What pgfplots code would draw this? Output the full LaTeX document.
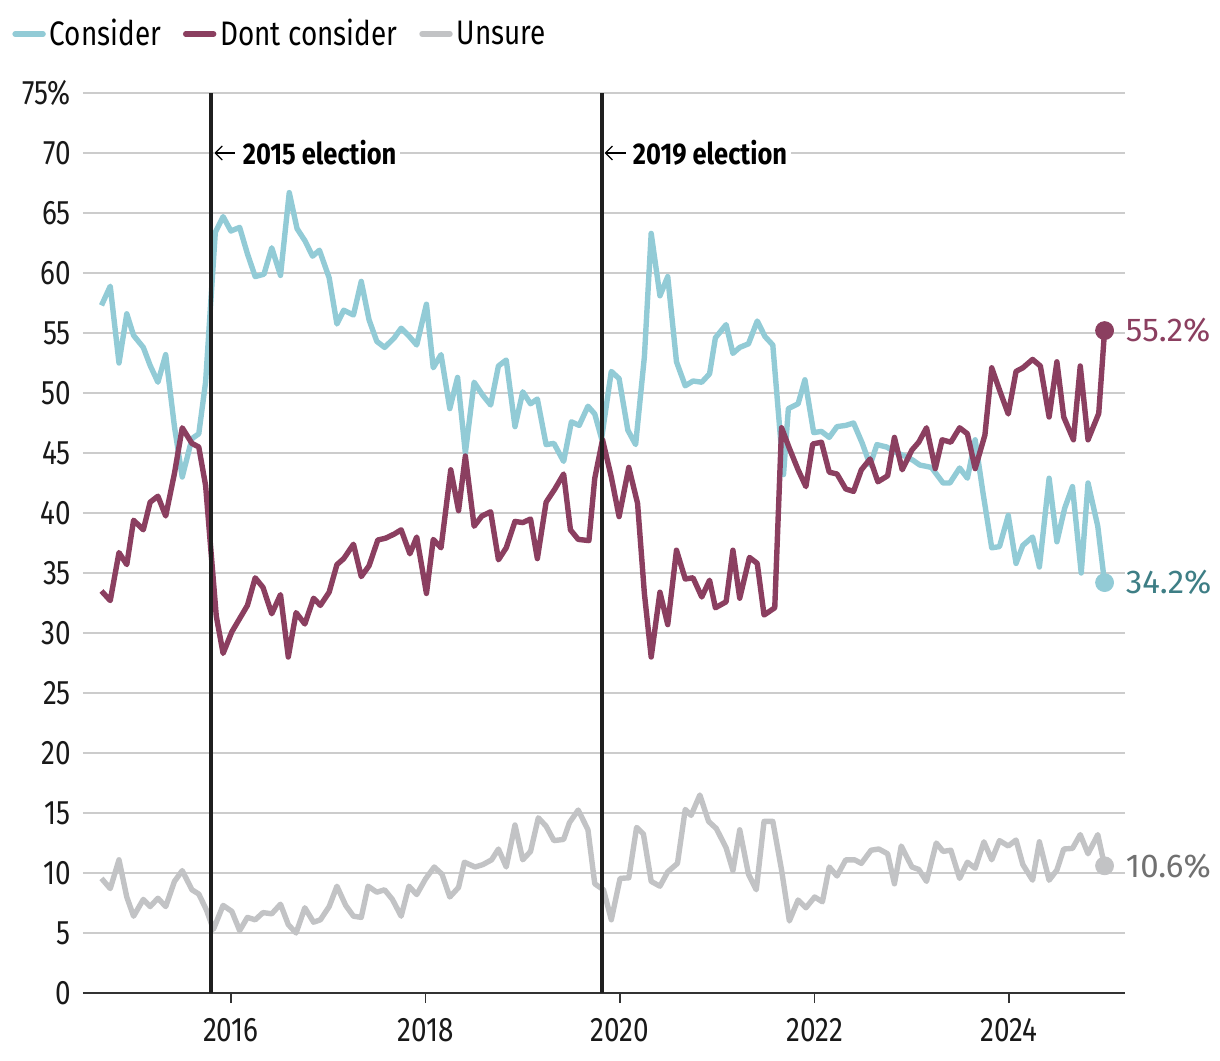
\documentclass[border=0pt]{standalone}
\usepackage{fontspec}
\setmainfont[FakeStretch=0.82]{Fira Sans}
\newfontfamily\annfont[FakeStretch=0.85]{Fira Sans}
\newfontfamily\endfont{Fira Sans}
\usepackage{pgfplots}
\pgfplotsset{compat=1.18}
\usetikzlibrary{arrows.meta}
\definecolor{consider}{HTML}{92CBD6}
\definecolor{dont}{HTML}{8B3F60}
\definecolor{unsure}{HTML}{C2C3C5}
\definecolor{considerdark}{HTML}{3E7E85}
\definecolor{unsuredark}{HTML}{707070}
\definecolor{gridc}{HTML}{CCCCCC}
\begin{document}
\begin{tikzpicture}
\useasboundingbox (-41.5pt,-33.5pt) rectangle (568.5pt,496.5pt);
\begin{axis}[
  scale only axis, width=521pt, height=450pt,
  xmin=2014.48, xmax=2025.19, ymin=0, ymax=75,
  clip=false,
  axis x line*=bottom, axis y line*=left,
  x axis line style={draw=black!80, line width=1pt},
  y axis line style={draw=none},
  xtick={2016,2018,2020,2022,2024},
  xticklabels={2016,2018,2020,2022,2024},
  xtick align=outside,
  major tick length=5pt,
  xtick style={draw=black!80, line width=0.8pt},
  ytick={0,5,10,15,20,25,30,35,40,45,50,55,60,65,70,75},
  yticklabels={0,5,10,15,20,25,30,35,40,45,50,55,60,65,70,75\%},
  ytick style={draw=none},
  ymajorgrids,
  grid style={gridc, line width=1pt},
  tick label style={font=\fontsize{17}{19}\selectfont, text=black!90},
  yticklabel style={xshift=-2.5pt},
  xticklabel style={yshift=-4pt},
  legend style={at={(0,1)}, anchor=west, xshift=-35.5pt, yshift=29.5pt,
    draw=none, fill=none, inner sep=0pt, legend columns=-1,
    font=\fontsize{17}{19}\selectfont,
    /tikz/every even column/.append style={column sep=9pt}},
  legend image code/.code={\draw[#1, line cap=round] (0pt,0pt) -- (14pt,0pt);},
]
\addplot[consider, line width=2.7pt, line join=round] coordinates {
(2014.67,57.3) (2014.76,58.9) (2014.85,52.5) (2014.93,56.6) (2015.00,54.8) (2015.10,53.8)
(2015.17,52.3) (2015.25,50.9) (2015.33,53.2) (2015.42,47.2) (2015.50,43.0) (2015.60,46.2)
(2015.67,46.6) (2015.74,50.9) (2015.84,63.4) (2015.92,64.7) (2016.00,63.5) (2016.09,63.8)
(2016.17,61.6) (2016.25,59.7) (2016.34,59.9) (2016.42,62.1) (2016.51,59.8) (2016.60,66.7)
(2016.68,63.7) (2016.76,62.7) (2016.84,61.4) (2016.91,61.9) (2017.01,59.6) (2017.09,55.75)
(2017.16,56.9) (2017.26,56.5) (2017.34,59.3) (2017.42,56.1) (2017.50,54.3) (2017.58,53.8)
(2017.68,54.6) (2017.75,55.4) (2017.83,54.75) (2017.91,54.0) (2018.01,57.4) (2018.08,52.1)
(2018.16,53.2) (2018.25,48.7) (2018.33,51.3) (2018.41,45.0) (2018.50,50.9) (2018.59,49.8)
(2018.67,49.0) (2018.75,52.25) (2018.83,52.75) (2018.92,47.2) (2019.00,50.1) (2019.08,49.1)
(2019.15,49.5) (2019.24,45.7) (2019.32,45.8) (2019.42,44.3) (2019.50,47.6) (2019.58,47.3)
(2019.67,48.9) (2019.74,48.25) (2019.81,46.2) (2019.91,51.8) (2019.99,51.2) (2020.08,46.9)
(2020.16,45.7) (2020.25,53.0) (2020.32,63.3) (2020.41,58.1) (2020.49,59.7) (2020.58,52.6)
(2020.67,50.6) (2020.75,51.0) (2020.84,50.9) (2020.92,51.6) (2020.98,54.6) (2021.09,55.7)
(2021.16,53.3) (2021.23,53.8) (2021.32,54.1) (2021.41,56.0) (2021.49,54.7) (2021.57,54.0)
(2021.68,43.2) (2021.73,48.7) (2021.83,49.1) (2021.90,51.1) (2021.99,46.7) (2022.07,46.8)
(2022.15,46.3) (2022.23,47.2) (2022.32,47.3) (2022.40,47.5) (2022.49,45.8) (2022.57,44.0)
(2022.64,45.7) (2022.74,45.5) (2022.82,45.1) (2022.91,44.8) (2023.01,44.4) (2023.08,44.0)
(2023.20,43.8) (2023.32,42.5) (2023.39,42.5) (2023.49,43.75) (2023.57,42.9) (2023.65,46.1)
(2023.73,41.7) (2023.82,37.1) (2023.90,37.2) (2023.99,39.8) (2024.07,35.8) (2024.14,37.3)
(2024.24,38.0) (2024.31,35.5) (2024.41,42.9) (2024.49,37.6) (2024.57,40.4) (2024.65,42.2)
(2024.74,35.0) (2024.81,42.5) (2024.91,38.9) (2024.98,34.2)
};
\addlegendentry{Consider}
\addplot[dont, line width=2.7pt, line join=round] coordinates {
(2014.67,33.5) (2014.76,32.7) (2014.85,36.7) (2014.93,35.7) (2015.00,39.4) (2015.10,38.6)
(2015.17,40.9) (2015.25,41.4) (2015.33,39.75) (2015.42,43.3) (2015.50,47.1) (2015.60,45.8)
(2015.67,45.5) (2015.74,42.3) (2015.85,31.4) (2015.92,28.3) (2016.01,30.1) (2016.09,31.2)
(2016.17,32.3) (2016.25,34.6) (2016.33,33.8) (2016.42,31.6) (2016.51,33.2) (2016.59,28.0)
(2016.67,31.7) (2016.76,30.75) (2016.85,32.9) (2016.92,32.3) (2017.01,33.4) (2017.09,35.7)
(2017.16,36.2) (2017.26,37.4) (2017.34,34.7) (2017.42,35.6) (2017.51,37.75) (2017.59,37.9)
(2017.68,38.25) (2017.75,38.6) (2017.84,36.6) (2017.91,38.0) (2018.01,33.3) (2018.08,37.8)
(2018.16,37.1) (2018.26,43.6) (2018.34,40.2) (2018.41,44.75) (2018.50,38.9) (2018.58,39.75)
(2018.67,40.1) (2018.75,36.1) (2018.83,37.1) (2018.92,39.3) (2019.00,39.2) (2019.08,39.5)
(2019.15,36.2) (2019.24,40.9) (2019.33,42.0) (2019.42,43.25) (2019.49,38.6) (2019.57,37.8)
(2019.68,37.7) (2019.74,42.9) (2019.82,46.1) (2019.91,43.0) (2019.99,39.7) (2020.09,43.8)
(2020.18,40.8) (2020.25,33.3) (2020.32,28.0) (2020.41,33.4) (2020.49,30.7) (2020.58,36.9)
(2020.67,34.5) (2020.75,34.6) (2020.84,33.0) (2020.92,34.4) (2020.98,32.1) (2021.09,32.6)
(2021.16,36.9) (2021.23,32.9) (2021.33,36.3) (2021.41,35.8) (2021.48,31.5) (2021.59,32.1)
(2021.66,47.1) (2021.74,45.4) (2021.83,43.6) (2021.91,42.2) (2021.98,45.75) (2022.07,45.9)
(2022.15,43.4) (2022.23,43.25) (2022.32,42.0) (2022.40,41.8) (2022.48,43.6) (2022.57,44.5)
(2022.65,42.6) (2022.75,43.1) (2022.82,46.3) (2022.90,43.6) (2023.00,45.25) (2023.07,45.9)
(2023.15,47.1) (2023.24,43.7) (2023.31,46.1) (2023.40,45.9) (2023.49,47.1) (2023.57,46.6)
(2023.65,43.7) (2023.75,46.5) (2023.82,52.1) (2023.90,50.25) (2023.99,48.25) (2024.07,51.8)
(2024.14,52.1) (2024.24,52.8) (2024.32,52.25) (2024.41,48.0) (2024.49,52.6) (2024.56,48.0)
(2024.66,46.1) (2024.73,52.25) (2024.81,46.1) (2024.92,48.3) (2024.98,55.2)
};
\addlegendentry{Dont consider}
\addplot[unsure, line width=2.7pt, line join=round] coordinates {
(2014.67,9.55) (2014.76,8.7) (2014.85,11.1) (2014.93,8.0) (2015.00,6.4) (2015.10,7.8)
(2015.17,7.2) (2015.25,7.9) (2015.33,7.2) (2015.42,9.3) (2015.50,10.2) (2015.60,8.6)
(2015.67,8.25) (2015.75,6.9) (2015.82,5.3) (2015.92,7.3) (2016.01,6.8) (2016.09,5.2)
(2016.17,6.3) (2016.25,6.1) (2016.33,6.7) (2016.42,6.6) (2016.51,7.4) (2016.59,5.7)
(2016.67,5.0) (2016.76,7.1) (2016.85,5.9) (2016.92,6.1) (2017.01,7.2) (2017.09,8.9)
(2017.18,7.3) (2017.26,6.4) (2017.34,6.3) (2017.41,8.9) (2017.50,8.4) (2017.58,8.6)
(2017.66,7.8) (2017.75,6.4) (2017.83,8.9) (2017.91,8.2) (2018.00,9.5) (2018.09,10.5)
(2018.17,9.9) (2018.25,8.0) (2018.34,8.8) (2018.40,10.9) (2018.51,10.5) (2018.59,10.7)
(2018.68,11.1) (2018.75,12.0) (2018.83,10.5) (2018.92,14.0) (2019.00,11.1) (2019.08,11.8)
(2019.16,14.6) (2019.24,13.9) (2019.32,12.7) (2019.42,12.8) (2019.48,14.2) (2019.57,15.25)
(2019.67,13.6) (2019.74,9.1) (2019.83,8.6) (2019.91,6.1) (2020.00,9.55) (2020.09,9.6)
(2020.17,13.8) (2020.24,13.25) (2020.32,9.3) (2020.41,8.9) (2020.49,10.1) (2020.59,10.8)
(2020.67,15.3) (2020.73,14.8) (2020.82,16.5) (2020.91,14.3) (2020.99,13.7) (2021.09,12.1)
(2021.16,10.2) (2021.23,13.6) (2021.32,9.9) (2021.40,8.6) (2021.48,14.3) (2021.57,14.3)
(2021.66,10.25) (2021.74,6.0) (2021.83,7.75) (2021.91,7.1) (2022.00,8.0) (2022.08,7.6)
(2022.15,10.5) (2022.23,9.75) (2022.32,11.1) (2022.41,11.1) (2022.48,10.8) (2022.58,11.9)
(2022.66,12.0) (2022.75,11.6) (2022.82,9.1) (2022.89,12.25) (2023.00,10.5) (2023.07,10.3)
(2023.15,9.3) (2023.25,12.5) (2023.32,11.8) (2023.40,11.9) (2023.49,9.55) (2023.57,10.9)
(2023.65,10.4) (2023.74,12.6) (2023.82,11.1) (2023.90,12.7) (2023.99,12.25) (2024.07,12.75)
(2024.14,10.7) (2024.24,9.4) (2024.31,12.6) (2024.41,9.4) (2024.49,10.25) (2024.56,12.0)
(2024.65,12.05) (2024.73,13.2) (2024.81,11.6) (2024.91,13.2) (2024.98,10.6)
};
\addlegendentry{Unsure}
% end markers
\addplot[consider, only marks, mark=*, mark size=4.5pt, forget plot] coordinates {(2024.98,34.2)};
\addplot[dont, only marks, mark=*, mark size=4.5pt, forget plot] coordinates {(2024.98,55.2)};
\addplot[unsure, only marks, mark=*, mark size=4.5pt, forget plot] coordinates {(2024.98,10.6)};
\node[anchor=west, inner sep=0pt, xshift=10.5pt, text=dont, font=\endfont\fontsize{16.5}{18}\selectfont] at (axis cs:2024.98,55.2) {55.2\%};
\node[anchor=west, inner sep=0pt, xshift=10.5pt, text=considerdark, font=\endfont\fontsize{16.5}{18}\selectfont] at (axis cs:2024.98,34.2) {34.2\%};
\node[anchor=west, inner sep=0pt, xshift=10.5pt, text=unsuredark, font=\endfont\fontsize{16.5}{18}\selectfont] at (axis cs:2024.98,10.6) {10.6\%};
% election lines
\addplot[black!88, line width=2pt, forget plot] coordinates {(2015.80,0) (2015.80,75)};
\addplot[black!88, line width=2pt, forget plot] coordinates {(2019.81,0) (2019.81,75)};
\node[anchor=west, fill=white, inner xsep=2pt, inner ysep=1pt, xshift=1.2pt, font=\annfont\bfseries\fontsize{15}{17}\selectfont] at (axis cs:2015.80,70) {\hspace{12.3pt}2015 election};
\node[anchor=west, fill=white, inner xsep=2pt, inner ysep=1pt, xshift=1.2pt, font=\annfont\bfseries\fontsize{15}{17}\selectfont] at (axis cs:2019.81,70) {\hspace{12.3pt}2019 election};
\draw[{Straight Barb[length=3.5pt,width=7pt]}-, line width=0.6pt] ([xshift=1.5pt]axis cs:2015.80,70) -- ([xshift=12pt]axis cs:2015.80,70);
\draw[{Straight Barb[length=3.5pt,width=7pt]}-, line width=0.6pt] ([xshift=1.5pt]axis cs:2019.81,70) -- ([xshift=12pt]axis cs:2019.81,70);
\end{axis}
\end{tikzpicture}
\end{document}
